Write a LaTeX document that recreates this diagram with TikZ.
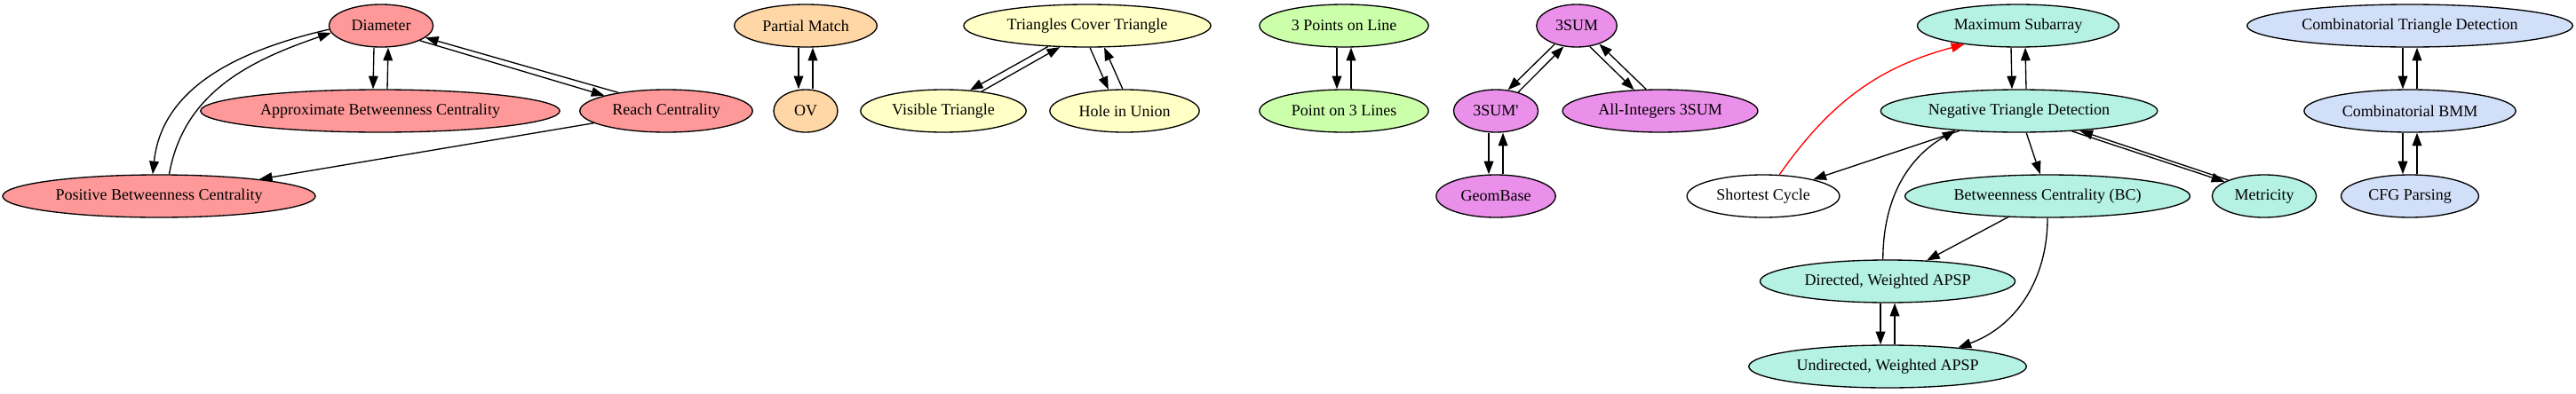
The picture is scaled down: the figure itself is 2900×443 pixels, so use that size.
\documentclass[tikz,border=0pt]{standalone}
\usepackage{fontspec}
\setmainfont{Liberation Serif}
\usetikzlibrary{arrows.meta,shapes.geometric}
\definecolor{redgrp}{HTML}{FF9999}
\definecolor{orangegrp}{HTML}{FFD6A5}
\definecolor{yellowgrp}{HTML}{FFFFC6}
\definecolor{greengrp}{HTML}{CCFFAA}
\definecolor{violetgrp}{HTML}{EA8FEA}
\definecolor{tealgrp}{HTML}{B5F2E3}
\definecolor{bluegrp}{HTML}{D2DFF8}
\tikzset{->,>={Triangle[length=11pt,width=8pt]},
  prob/.style={ellipse,draw,fill=#1,inner xsep=6pt,inner ysep=3pt,
    minimum width=54pt,minimum height=36pt,font=\fontsize{13.5}{16}\selectfont},
  prob/.default=white}

\begin{document}
\begin{tikzpicture}[x=0.75pt,y=-0.75pt,line width=1pt]
              \useasboundingbox (0,0) rectangle (2900,443);
              % distance problems
              \node[prob=redgrp] (diam) at (429,29) {Diameter};
              \node[prob=redgrp] (abc) at (428,125) {Approximate Betweenness Centrality};
              \node[prob=redgrp] (reach) at (750,125) {Reach Centrality};
              \node[prob=redgrp] (pbc) at (179,221) {Positive Betweenness Centrality};
              % vectors
              \node[prob=orangegrp] (pm) at (907,29) {Partial Match};
              \node[prob=orangegrp] (ov) at (907,125) {OV};
              % geometry
              \node[prob=yellowgrp] (tct) at (1224,29) {Triangles Cover Triangle};
              \node[prob=yellowgrp] (vis) at (1062,125) {Visible Triangle};
              \node[prob=yellowgrp] (hole) at (1266,125) {Hole in Union};
              \node[prob=greengrp] (tpl) at (1513,29) {3 Points on Line};
              \node[prob=greengrp] (pol) at (1513,125) {Point on 3 Lines};
              % 3SUM
              \node[prob=violetgrp] (sum) at (1775,29) {3SUM};
              \node[prob=violetgrp] (sump) at (1684,125) {3SUM\textquotesingle};
              \node[prob=violetgrp] (aisum) at (1869,125) {All-Integers 3SUM};
              \node[prob=violetgrp] (geom) at (1684,221) {GeomBase};
              % APSP
              \node[prob=tealgrp] (msa) at (2272,29) {Maximum Subarray};
              \node[prob=tealgrp] (ntd) at (2273,125) {Negative Triangle Detection};
              \node[prob] (sc) at (1985,221) {Shortest Cycle};
              \node[prob=tealgrp] (bc) at (2305,221) {Betweenness Centrality (BC)};
              \node[prob=tealgrp] (met) at (2549,221) {Metricity};
              \node[prob=tealgrp] (dapsp) at (2125,317) {Directed, Weighted APSP};
              \node[prob=tealgrp] (uapsp) at (2125,413) {Undirected, Weighted APSP};
              % BMM
              \node[prob=bluegrp] (ctd) at (2713,29) {Combinatorial Triangle Detection};
              \node[prob=bluegrp] (cbmm) at (2713,125) {Combinatorial BMM};
              \node[prob=bluegrp] (cfg) at (2713,221) {CFG Parsing};

              \path
              ([xshift=-6pt]diam.south) edge ([xshift=-6pt]abc.north)
              ([xshift=6pt]abc.north) edge ([xshift=6pt]diam.south)
              (diam.-21) edge (reach.166)
              (reach.159) edge (diam.-15)
              (diam.184) edge [out=193,in=84] (pbc.106)
              (pbc.65) edge [out=80,in=199] (diam.188)
              (reach) edge (pbc)
              ([xshift=-6pt]pm.south) edge ([xshift=-6pt]ov.north)
              ([xshift=6pt]ov.north) edge ([xshift=6pt]pm.south)
              (tct.208) edge (vis.38)
              (vis.27) edge (tct.218)
              (tct.277) edge (hole.127)
              (hole.95) edge (tct.-52)
              ([xshift=-6pt]tpl.south) edge ([xshift=-6pt]pol.north)
              ([xshift=6pt]pol.north) edge ([xshift=6pt]tpl.south)
              (sum.220) edge (sump.60)
              (sump.40) edge (sum.238)
              (sum.302) edge (aisum.141)
              (aisum.123) edge (sum.321)
              ([xshift=-6pt]sump.south) edge ([xshift=-6pt]geom.north)
              ([xshift=6pt]geom.north) edge ([xshift=6pt]sump.south)
              (sc.53) edge [red,out=55,in=195] (msa.199)
              ([xshift=-6pt]msa.south) edge ([xshift=-6pt]ntd.north)
              ([xshift=6pt]ntd.north) edge ([xshift=6pt]msa.south)
              (ntd) edge (sc)
              (ntd) edge (bc)
              (ntd.-21) edge (met.160)
              (met.156) edge (ntd.-18)
              (bc) edge (dapsp)
              (bc.south) edge [out=270,in=20] (uapsp.15)
              (dapsp.102) edge [out=90,in=210] (ntd.197)
              ([xshift=-6pt]dapsp.south) edge ([xshift=-6pt]uapsp.north)
              ([xshift=6pt]uapsp.north) edge ([xshift=6pt]dapsp.south)
              ([xshift=-6pt]ctd.south) edge ([xshift=-6pt]cbmm.north)
              ([xshift=6pt]cbmm.north) edge ([xshift=6pt]ctd.south)
              ([xshift=-6pt]cbmm.south) edge ([xshift=-6pt]cfg.north)
              ([xshift=6pt]cfg.north) edge ([xshift=6pt]cbmm.south)
              ;
            \end{tikzpicture}
\end{document}
